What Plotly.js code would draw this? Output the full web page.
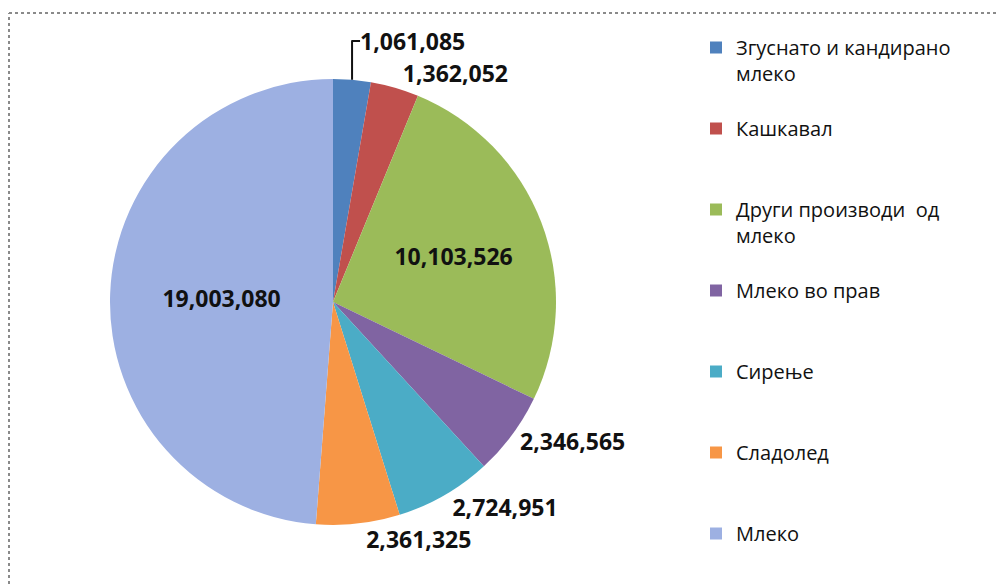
<!DOCTYPE html>
<html>
<head>
<meta charset="utf-8">
<script src="https://cdn.plot.ly/plotly-3.0.1.min.js"></script>
<style>html,body{margin:0;padding:0;background:#fff;}#chart{width:998px;height:584px;}</style>
</head>
<body>
<div id="chart"></div>
<script>
// Data
var labels = [
  "Згуснато и кандирано<br>млеко",
  "Кашкавал",
  "Други производи  од<br>млеко",
  "Млеко во прав",
  "Сирење",
  "Сладолед",
  "Млеко"
];
var values = [1061085, 1362052, 10103526, 2346565, 2724951, 2361325, 19003080];
var colors = ["#4F81BD", "#C0504D", "#9BBB59", "#8064A2", "#4BACC6", "#F79646", "#9DB0E2"];
var textPositions = ["outside", "outside", "inside", "outside", "outside", "outside", "inside"];

// legend entries padded to three lines so each marker sits on the first visible line
var legendLabels = labels.map(function (l) {
  return "\u00a0<br>" + l + (l.indexOf("<br>") >= 0 ? "" : "<br>\u00a0");
});

var W = 998, H = 584;
var cx = 333, cy = 302, r = 223;
var labelFont = { family: "Open Sans, sans-serif", size: 23, color: "#111", weight: "bold" };

var trace = {
  type: "pie",
  labels: legendLabels,
  values: values,
  sort: false,
  direction: "clockwise",
  rotation: 0,
  marker: { colors: colors, line: { width: 0 } },
  texttemplate: "%{value:,}",
  textposition: textPositions,
  insidetextorientation: "horizontal",
  textfont: labelFont,
  insidetextfont: labelFont,
  outsidetextfont: labelFont,
  hoverinfo: "none",
  domain: {
    x: [(cx - r) / W, (cx + r) / W],
    y: [(H - cy - r) / H, (H - cy + r) / H]
  }
};

var layout = {
  width: W,
  height: H,
  margin: { l: 0, r: 0, t: 0, b: 0 },
  paper_bgcolor: "#ffffff",
  showlegend: true,
  legend: {
    x: 696 / W,
    xanchor: "left",
    y: 1 - 2 / H,
    yanchor: "top",
    font: { family: "Open Sans, sans-serif", size: 20, color: "#111" },
    bgcolor: "rgba(0,0,0,0)",
    traceorder: "normal"
  },
  shapes: [
    { type: "line", xref: "paper", yref: "paper", x0: 9 / W, x1: 1, y0: 1 - 13 / H, y1: 1 - 13 / H,
      line: { color: "#8a8a8a", width: 2, dash: "dot" } },
    { type: "line", xref: "paper", yref: "paper", x0: 9 / W, x1: 9 / W, y0: 0, y1: 1 - 13 / H,
      line: { color: "#8a8a8a", width: 2, dash: "dot" } }
  ]
};

Plotly.newPlot("chart", [trace], layout, { displayModeBar: false, staticPlot: true });
</script>
</body>
</html>
